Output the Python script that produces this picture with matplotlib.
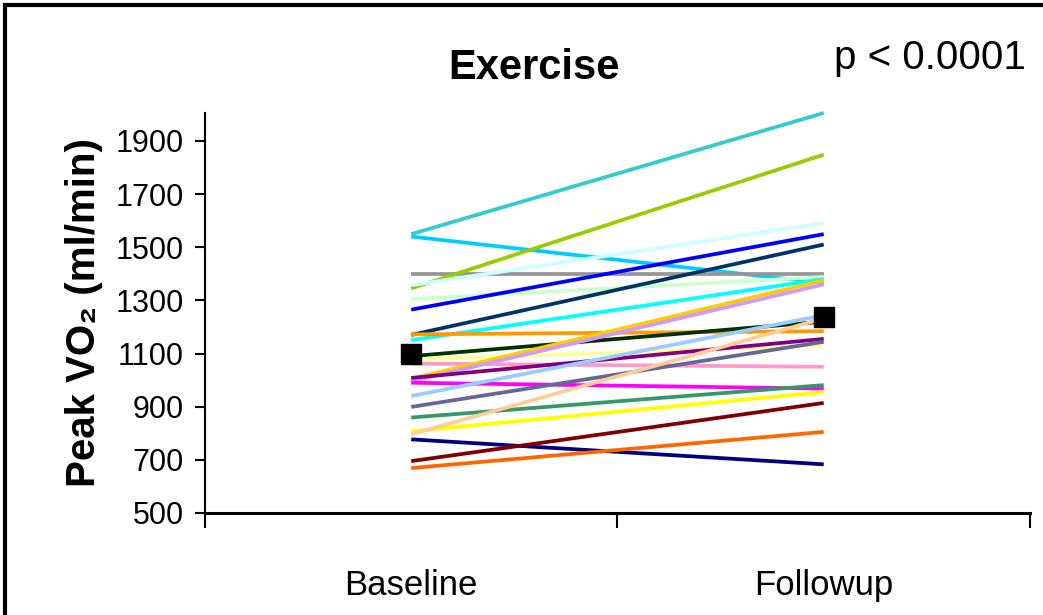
import matplotlib
matplotlib.use("Agg")
import matplotlib.pyplot as plt
from matplotlib.patches import Rectangle

# dados
categorias = ["Baseline", "Followup"]

baseline = [1549, 1540, 1400, 1345, 1357, 1305, 1265, 1170, 1150, 1172,
            1090, 1078, 1062, 1005, 995, 1008, 990, 940, 899, 859,
            807, 796, 777, 695, 669]
followup = [2005, 1365, 1400, 1848, 1590, 1388, 1549, 1510, 1380, 1184,
            1220, 1130, 1050, 1375, 1360, 1155, 968, 1244, 1144, 981,
            955, 1232, 683, 914, 805]
cores = ["#33CCCC", "#00CCFF", "#969696", "#99CC00", "#CCFFFF", "#CCFFCC",
         "#0000FF", "#003366", "#00FFFF", "#FF9900", "#003300", "#FFFF99",
         "#FF99CC", "#FFCC00", "#CC99FF", "#800080", "#FF00FF", "#99CCFF",
         "#666699", "#339966", "#FFFF00", "#FFCC99", "#000080", "#800000",
         "#FF6600"]
medias = [1100, 1238]

yticks = [500, 700, 900, 1100, 1300, 1500, 1700, 1900]

fonte = ["Liberation Sans", "DejaVu Sans"]

fig = plt.figure(figsize=(10.43, 6.15), dpi=100)
ax = fig.add_axes([0.1965, 0.1659, 0.791, 0.6504])

for b, f, c in zip(baseline, followup, cores):
    ax.plot([0, 1], [b, f], color=c, linewidth=2.7, solid_capstyle="butt",
            clip_on=False, zorder=2)

ax.plot([0, 1], medias, linestyle="none", marker="s", markersize=14,
        color="black", clip_on=False, zorder=5)

ax.set_xlim(-0.5, 1.5)
ax.set_ylim(500, 2005)

# eixos
for lado in ["top", "right"]:
    ax.spines[lado].set_visible(False)
ax.spines["left"].set_linewidth(1.5)
ax.spines["bottom"].set_linewidth(2.2)

ax.set_yticks(yticks)
ax.set_yticklabels([str(v) for v in yticks], fontfamily=fonte, fontsize=22)
ax.tick_params(axis="y", direction="out", length=7, width=1.5, pad=8)

ax.set_xticks([-0.5, 0.5, 1.5])
ax.set_xticklabels([])
ax.tick_params(axis="x", which="major", direction="out", length=11, width=1.5)
ax.set_xticks([0, 1], minor=True)
ax.set_xticklabels(categorias, minor=True, fontfamily=fonte, fontsize=25)
ax.tick_params(axis="x", which="minor", length=0, pad=40)

ax.set_ylabel("Peak VO\u2082 (ml/min)", fontfamily=fonte, fontweight="bold",
              fontsize=29, labelpad=9)

fig.text(0.512, 0.889, "Exercise", fontfamily=fonte, fontweight="bold",
         fontsize=30, ha="center", va="center")
fig.text(0.892, 0.905, "p < 0.0001", fontfamily=fonte, fontsize=29,
         ha="center", va="center")

# moldura
fig.patches.append(Rectangle((5 / 1043, -0.2), 1.2, 1.2 - 5 / 615,
                             transform=fig.transFigure, fill=False,
                             edgecolor="black", linewidth=3))

plt.savefig("out.png", dpi=100)
